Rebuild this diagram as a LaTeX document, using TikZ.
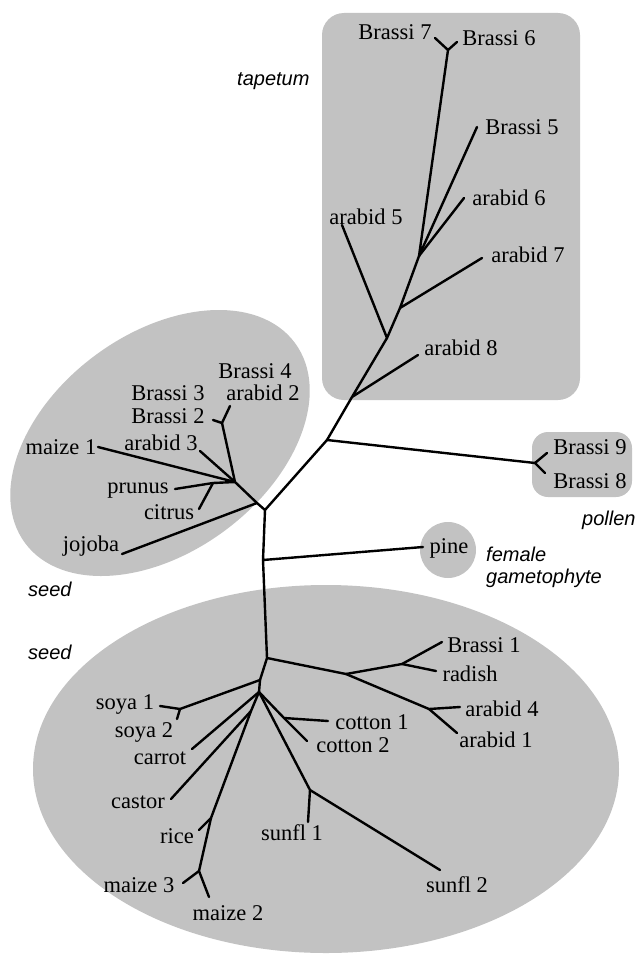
\documentclass[tikz,border=0pt]{standalone}
\usepackage{fontspec}
\setmainfont{Liberation Serif}
\newfontfamily\grpfont{Liberation Sans}
\definecolor{shadegray}{gray}{0.76}
\begin{document}
\begin{tikzpicture}[x=1pt,y=-1pt,
  lab/.style={font=\fontsize{22.5}{24}\selectfont, inner sep=0pt, anchor=base},
  grp/.style={font=\grpfont\itshape\fontsize{20}{22}\selectfont, inner sep=0pt, anchor=base west},
  br/.style={line width=2.4pt, line cap=round, line join=round},
  region/.style={fill=shadegray, draw=none}]
\useasboundingbox (0,0) rectangle (637,958);

% shaded groups
\fill[region, rounded corners=22pt] (322,13) rectangle (580,400);
\fill[region, rounded corners=16pt] (532,432) rectangle (632,497);
\fill[region] (448,550) circle [radius=28pt];
\fill[region, rotate around={36.6:(160,443)}] (160,443) ellipse [x radius=168pt, y radius=109pt];
\fill[region] (326,769) ellipse [x radius=293pt, y radius=184pt];

% tree coordinates
\coordinate (t7) at (435,38);
\coordinate (t6) at (457,42);
\coordinate (n76) at (448,50);
\coordinate (nA) at (419,256);
\coordinate (t5) at (477,127);
\coordinate (ta6) at (464,198);
\coordinate (nB) at (400,308);
\coordinate (ta7) at (482,258);
\coordinate (nC) at (387,338);
\coordinate (ta5) at (342,225);
\coordinate (nD) at (352,397);
\coordinate (ta8) at (418,355);
\coordinate (nP) at (327,440);
\coordinate (nPf) at (535,463);
\coordinate (t9) at (547,453);
\coordinate (t8) at (545,473);
\coordinate (R) at (265,510);
\coordinate (jJ) at (257,503);
\coordinate (tjoj) at (122,554);
\coordinate (nM) at (235,482);
\coordinate (tmz1) at (98,447);
\coordinate (ta3) at (200,451);
\coordinate (nN) at (213,483);
\coordinate (tpru) at (175,489);
\coordinate (tcit) at (199,509);
\coordinate (nO) at (222,423);
\coordinate (tB32) at (213,420);
\coordinate (tB4a2) at (230,406);
\coordinate (nPine) at (263,560);
\coordinate (tpine) at (423,547);
\coordinate (nBot) at (267,658);
\coordinate (nC2) at (346,674);
\coordinate (nD2) at (402,664);
\coordinate (tB1) at (442,642);
\coordinate (trad) at (436,671);
\coordinate (nE) at (429,709);
\coordinate (ta4) at (460,707);
\coordinate (ta1) at (457,733);
\coordinate (nF) at (260,680);
\coordinate (nS) at (180,709);
\coordinate (ts1) at (160,706);
\coordinate (ts2) at (177,719);
\coordinate (nG) at (259,692);
\coordinate (tcar) at (192,749);
\coordinate (nG2) at (251,711);
\coordinate (tcas) at (171,799);
\coordinate (nH) at (211,818);
\coordinate (trice) at (199,830);
\coordinate (nI) at (199,871);
\coordinate (tm3) at (183,883);
\coordinate (tm2) at (209,897);
\coordinate (nK) at (284,718);
\coordinate (tc1) at (328,721);
\coordinate (tc2) at (307,741);
\coordinate (nL) at (310,790);
\coordinate (tsf1) at (308,822);
\coordinate (tsf2) at (440,870);

% branches
\draw[br] (t7) -- (n76) -- (t6);
\draw[br] (n76) -- (nA) -- (t5);
\draw[br] (nA) -- (ta6);
\draw[br] (nA) -- (nB) -- (ta7);
\draw[br] (nB) -- (nC) -- (ta5);
\draw[br] (nC) -- (nD) -- (ta8);
\draw[br] (nD) -- (nP) -- (nPf);
\draw[br] (t9) -- (nPf) -- (t8);
\draw[br] (nP) -- (R) -- (jJ) -- (nM);
\draw[br] (jJ) -- (tjoj);
\draw[br] (nM) -- (tmz1);
\draw[br] (nM) -- (ta3);
\draw[br] (nM) -- (nN) -- (tpru);
\draw[br] (nN) -- (tcit);
\draw[br] (nM) -- (nO) -- (tB32);
\draw[br] (nO) -- (tB4a2);
\draw[br] (R) -- (nPine) -- (tpine);
\draw[br] (nPine) -- (nBot) -- (nC2) -- (nD2) -- (tB1);
\draw[br] (nD2) -- (trad);
\draw[br] (nC2) -- (nE) -- (ta4);
\draw[br] (nE) -- (ta1);
\draw[br] (nBot) -- (nF) -- (nS) -- (ts1);
\draw[br] (nS) -- (ts2);
\draw[br] (nF) -- (nG) -- (tcar);
\draw[br] (nG) -- (nG2) -- (nH) -- (trice);
\draw[br] (nG2) -- (tcas);
\draw[br] (nH) -- (nI) -- (tm3);
\draw[br] (nI) -- (tm2);
\draw[br] (nG) -- (nK) -- (tc2);
\draw[br] (nK) -- (tc1);
\draw[br] (nG) -- (nL) -- (tsf2);
\draw[br] (nL) -- (tsf1);

% leaf labels
\node[lab] (lB7) at (395,40) {Brassi 7};
\node[lab] (lB6) at (499,46) {Brassi 6};
\node[lab] (lB5) at (522,134) {Brassi 5};
\node[lab] (la6) at (509,205) {arabid 6};
\node[lab] (la7) at (528,262) {arabid 7};
\node[lab] (la5) at (366,224) {arabid 5};
\node[lab] (la8) at (461,355) {arabid 8};
\node[lab] (lB9) at (590,454) {Brassi 9};
\node[lab] (lB8) at (590,488) {Brassi 8};
\node[lab] (lpine) at (449,553) {pine};
\node[lab] (lB4) at (255,378) {Brassi 4};
\node[lab] (la2) at (263,400) {arabid 2};
\node[lab] (lB3) at (168,400) {Brassi 3};
\node[lab] (lB2) at (168,423) {Brassi 2};
\node[lab] (lmz1) at (61,454) {maize 1};
\node[lab] (la3) at (161,450) {arabid 3};
\node[lab] (lpru) at (138,493) {prunus};
\node[lab] (lcit) at (169,519) {citrus};
\node[lab] (ljoj) at (91,551) {jojoba};
\node[lab] (lB1) at (484,652) {Brassi 1};
\node[lab] (lrad) at (470,681) {radish};
\node[lab] (la4) at (502,716) {arabid 4};
\node[lab] (la1) at (496,747) {arabid 1};
\node[lab] (lc1) at (372,729) {cotton 1};
\node[lab] (lc2) at (353,752) {cotton 2};
\node[lab] (ls1) at (125,709) {soya 1};
\node[lab] (ls2) at (144,737) {soya 2};
\node[lab] (lcar) at (160,764) {carrot};
\node[lab] (lcas) at (138,808) {castor};
\node[lab] (lrice) at (177,843) {rice};
\node[lab] (lm3) at (139,892) {maize 3};
\node[lab] (lm2) at (228,920) {maize 2};
\node[lab] (lsf1) at (292,840) {sunfl 1};
\node[lab] (lsf2) at (457,892) {sunfl 2};

% group labels
\node[grp] (gtap) at (237,85) {tapetum};
\node[grp] (gseed1) at (28,596) {seed};
\node[grp] (gseed2) at (28,659) {seed};
\node[grp] (gpol) at (582,525) {pollen};
\node[grp] (gfem) at (486,561) {female};
\node[grp] (ggam) at (486,583) {gametophyte};
\end{tikzpicture}
\end{document}
